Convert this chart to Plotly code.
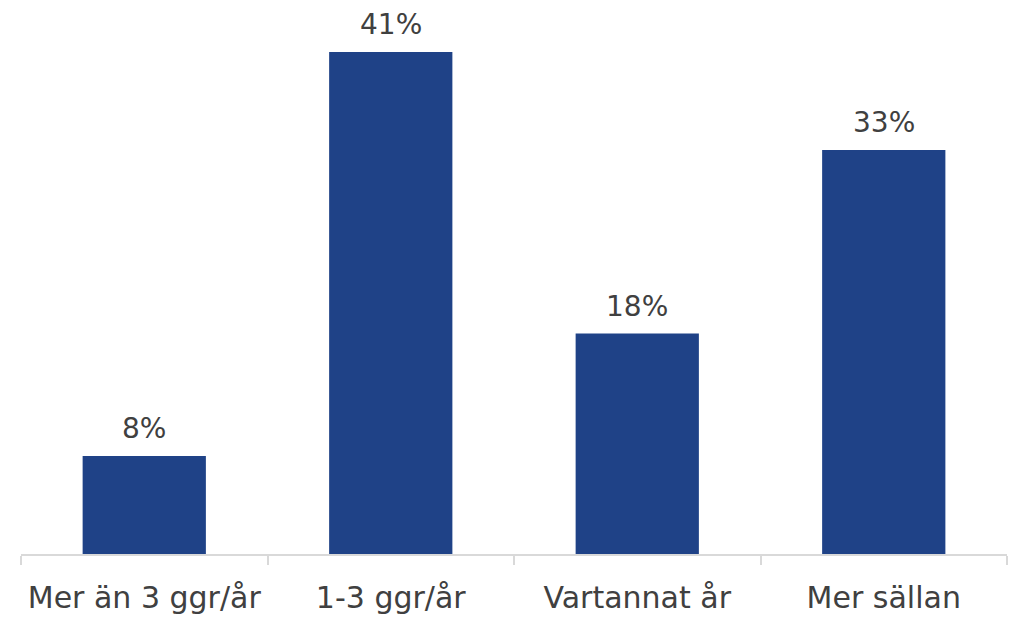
import plotly.graph_objects as go

categories = ["Mer än 3 ggr/år", "1-3 ggr/år", "Vartannat år", "Mer sällan"]
values = [8, 41, 18, 33]
labels = ["8%", "41%", "18%", "33%"]

FONT = "'DejaVu Sans', sans-serif"

fig = go.Figure(go.Bar(
    x=categories, y=values,
    marker=dict(color="#1F4287", line=dict(width=0)),
    width=0.5,
))
for c, v, t in zip(categories, values, labels):
    fig.add_annotation(x=c, y=v, text=t, showarrow=False, yanchor="bottom",
                       yshift=9, font=dict(size=28, color="#404040", family=FONT))
fig.update_layout(
    width=1001, height=609,
    margin=dict(l=13, r=2, t=2, b=63, autoexpand=False),
    plot_bgcolor="white", paper_bgcolor="white",
    font=dict(family=FONT, color="#404040"),
    showlegend=False,
    bargap=0.5,
)
fig.update_xaxes(
    automargin=False,
    showline=True, linecolor="#D9D9D9", linewidth=1.5,
    ticks="outside", tickson="boundaries", ticklen=9, tickcolor="#D9D9D9", tickwidth=1.5,
    tickfont=dict(size=30, color="#404040", family=FONT), ticklabelstandoff=16,
    showgrid=False,
)
fig.update_yaxes(visible=False, range=[0, 44.43], showgrid=False, automargin=False)
fig.write_html("out.html")
